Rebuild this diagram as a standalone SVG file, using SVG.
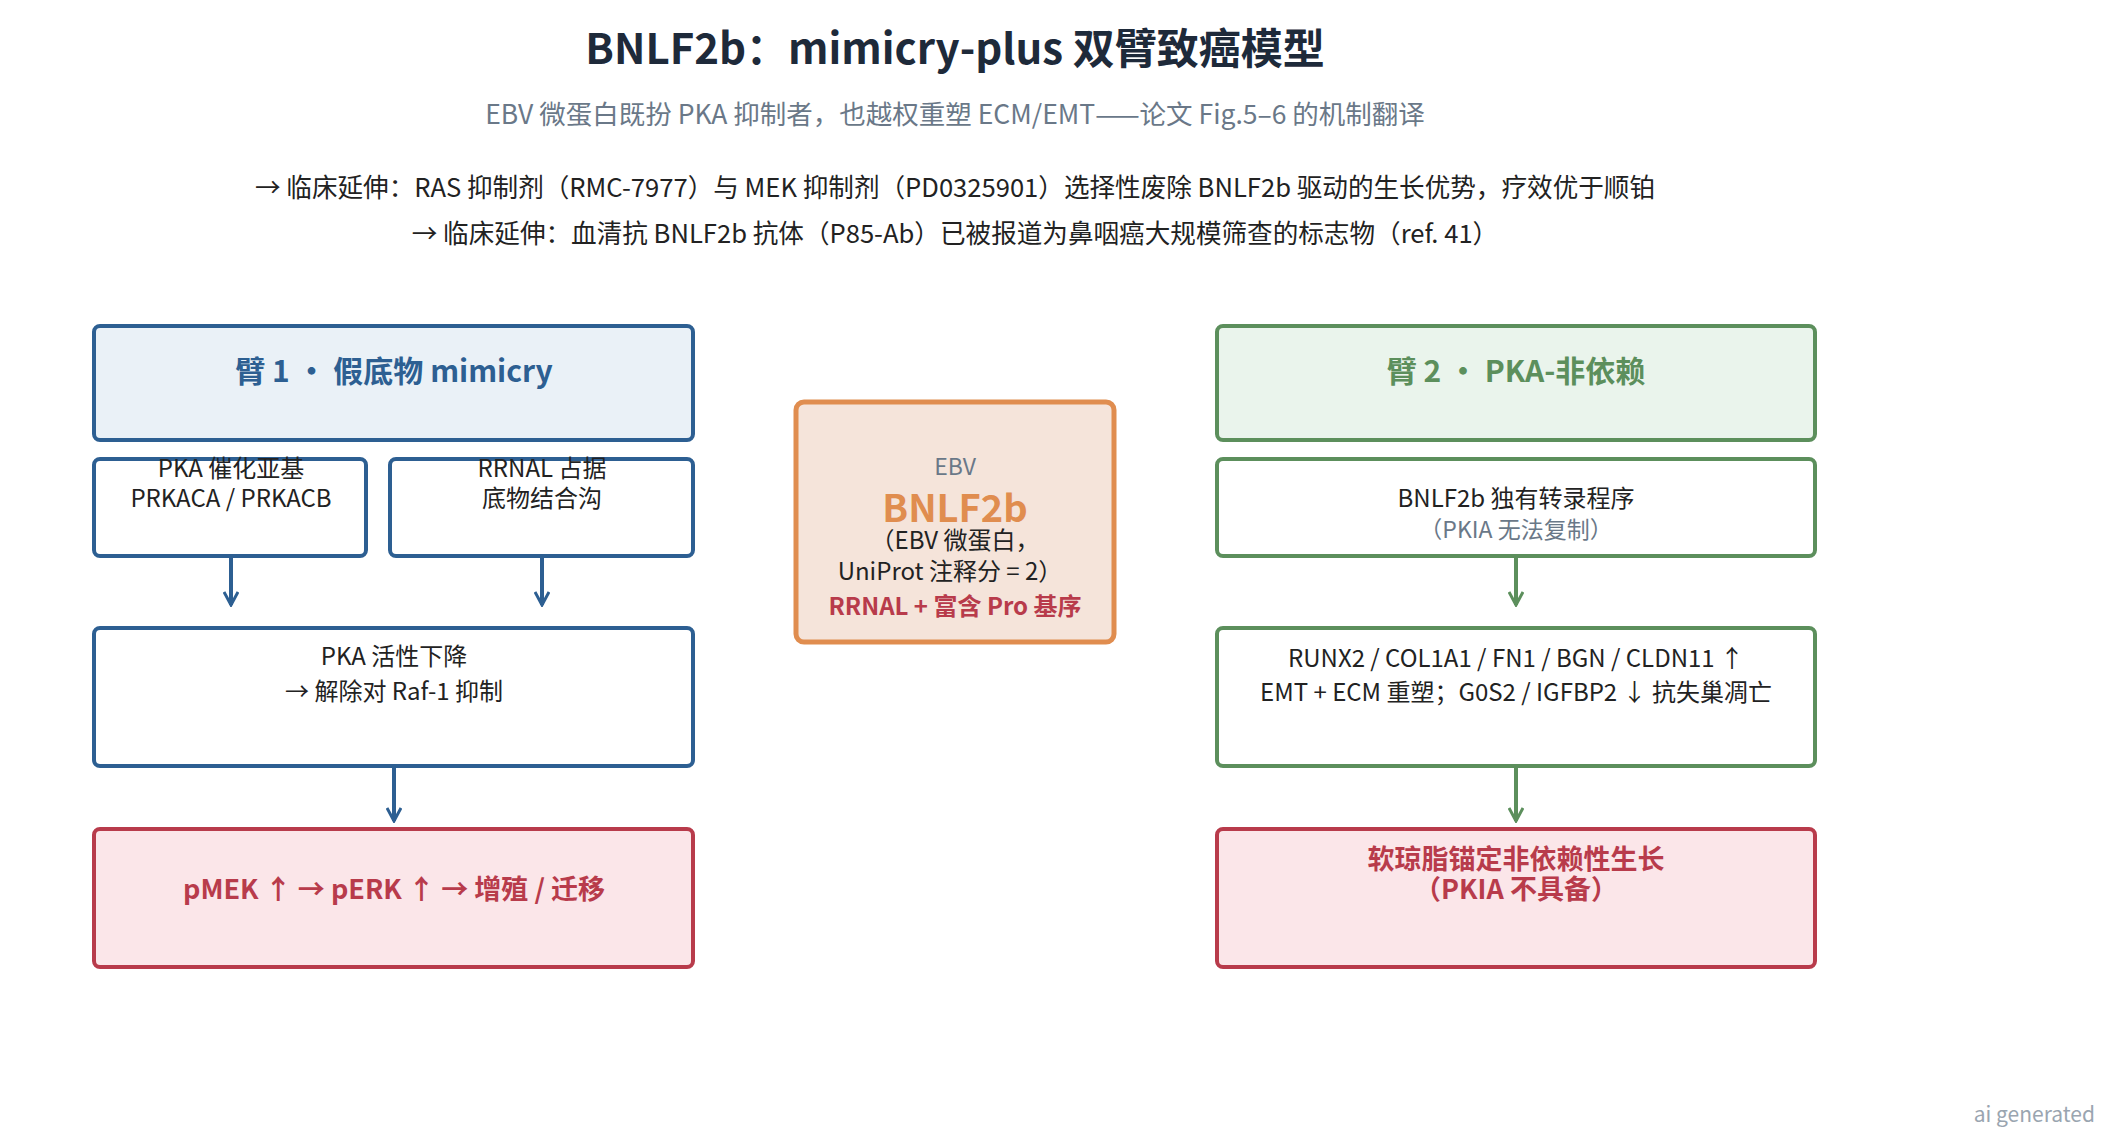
<svg xmlns="http://www.w3.org/2000/svg" width="2104" height="1140" viewBox="0 0 2104 1140">
<style>
text{font-family:"Noto Sans CJK SC","Noto Sans",sans-serif;text-anchor:middle}
.b{fill:#fff;stroke:#2d5f92;stroke-width:4}
.bh{fill:#eaf1f7;stroke:#2d5f92;stroke-width:4}
.g{fill:#fff;stroke:#5c8f5c;stroke-width:4}
.gh{fill:#eaf4ec;stroke:#5c8f5c;stroke-width:4}
.r{fill:#fbe6e9;stroke:#b83b4b;stroke-width:4}
.t{font-size:24px;fill:#222}
.rt{font-size:27px;font-weight:bold;fill:#b83b4b}
.cb{stroke:#2d5f92;stroke-width:4;fill:none}
.cg{stroke:#5c8f5c;stroke-width:4;fill:none}
</style>
<defs>
<marker id="ab" viewBox="0 0 16 16" refX="14" refY="8" markerWidth="16" markerHeight="16" markerUnits="userSpaceOnUse" orient="auto"><path d="M1,1 L14,8 L1,15" fill="none" stroke="#2d5f92" stroke-width="3"/></marker>
<marker id="ag" viewBox="0 0 16 16" refX="14" refY="8" markerWidth="16" markerHeight="16" markerUnits="userSpaceOnUse" orient="auto"><path d="M1,1 L14,8 L1,15" fill="none" stroke="#5c8f5c" stroke-width="3"/></marker>
</defs>
<rect width="2104" height="1140" fill="#fff"/>
<text x="955" y="64" style="font-size:42px;font-weight:bold;fill:#1e2a3a">BNLF2b：mimicry-plus 双臂致癌模型</text>
<text x="955" y="124" style="font-size:26.5px;fill:#6a7888">EBV 微蛋白既扮 PKA 抑制者，也越权重塑 ECM/EMT——论文 Fig.5–6 的机制翻译</text>
<text x="955" y="197" style="font-size:25.6px;fill:#222">→ 临床延伸：RAS 抑制剂（RMC-7977）与 MEK 抑制剂（PD0325901）选择性废除 BNLF2b 驱动的生长优势，疗效优于顺铂</text>
<text x="955" y="243" style="font-size:25.6px;fill:#222">→ 临床延伸：血清抗 BNLF2b 抗体（P85-Ab）已被报道为鼻咽癌大规模筛查的标志物（ref. 41）</text>
<g id="connectors">
<path class="cb" d="M231,556 V605" marker-end="url(#ab)"/>
<path class="cb" d="M542,556 V605" marker-end="url(#ab)"/>
<path class="cb" d="M394,766 V821" marker-end="url(#ab)"/>
<path class="cg" d="M1516,556 V605" marker-end="url(#ag)"/>
<path class="cg" d="M1516,766 V821" marker-end="url(#ag)"/>
</g>
<g id="arm1"><rect class="bh" x="94" y="326" width="599" height="114" rx="6"/><text x="394" y="382" style="font-size:30px;font-weight:bold;fill:#2d5f92">臂 1 • 假底物 mimicry</text></g>
<g id="pka_sub"><rect class="b" x="94" y="459" width="272" height="97" rx="6"/><text class="t" x="231" y="477">PKA 催化亚基</text><text class="t" x="231" y="507">PRKACA / PRKACB</text></g>
<g id="rrnal"><rect class="b" x="390" y="459" width="303" height="97" rx="6"/><text class="t" x="542" y="477">RRNAL 占据</text><text class="t" x="542" y="507">底物结合沟</text></g>
<g id="pka_down"><rect class="b" x="94" y="628" width="599" height="138" rx="6"/><text class="t" x="394" y="665">PKA 活性下降</text><text class="t" x="394" y="700">→ 解除对 Raf-1 抑制</text></g>
<g id="out1"><rect class="r" x="94" y="829" width="599" height="138" rx="6"/><text class="rt" x="394" y="899">pMEK ↑ → pERK ↑ → 增殖 / 迁移</text></g>
<g id="center"><rect x="796" y="402" width="318" height="240" rx="8" fill="#f5e4da" stroke="#e08d4f" stroke-width="5"/>
<text x="955" y="475" style="font-size:23px;fill:#6a7888">EBV</text>
<text x="955" y="522" style="font-size:38px;font-weight:bold;fill:#e08d4f">BNLF2b</text>
<text class="t" x="955" y="549">（EBV 微蛋白，</text>
<text class="t" x="950" y="580">UniProt 注释分 = 2）</text>
<text x="955" y="615" style="font-size:24px;font-weight:bold;fill:#b83b4b">RRNAL + 富含 Pro 基序</text></g>
<g id="arm2"><rect class="gh" x="1217" y="326" width="598" height="114" rx="6"/><text x="1516" y="382" style="font-size:30px;font-weight:bold;fill:#5c8f5c">臂 2 • PKA-非依赖</text></g>
<g id="prog"><rect class="g" x="1217" y="459" width="598" height="97" rx="6"/><text class="t" x="1516" y="507">BNLF2b 独有转录程序</text><text x="1516" y="538" style="font-size:23px;fill:#6a7888">（PKIA 无法复制）</text></g>
<g id="genes"><rect class="g" x="1217" y="628" width="598" height="138" rx="6"/><text class="t" x="1516" y="667">RUNX2 / COL1A1 / FN1 / BGN / CLDN11 ↑</text><text class="t" x="1516" y="701">EMT + ECM 重塑；G0S2 / IGFBP2 ↓ 抗失巢凋亡</text></g>
<g id="out2"><rect class="r" x="1217" y="829" width="598" height="138" rx="6"/><text class="rt" x="1516" y="869">软琼脂锚定非依赖性生长</text><text class="rt" x="1516" y="899">（PKIA 不具备）</text></g>
<text x="2095" y="1122" style="font-size:21px;fill:#9aa5b0;text-anchor:end">ai generated</text>
</svg>
